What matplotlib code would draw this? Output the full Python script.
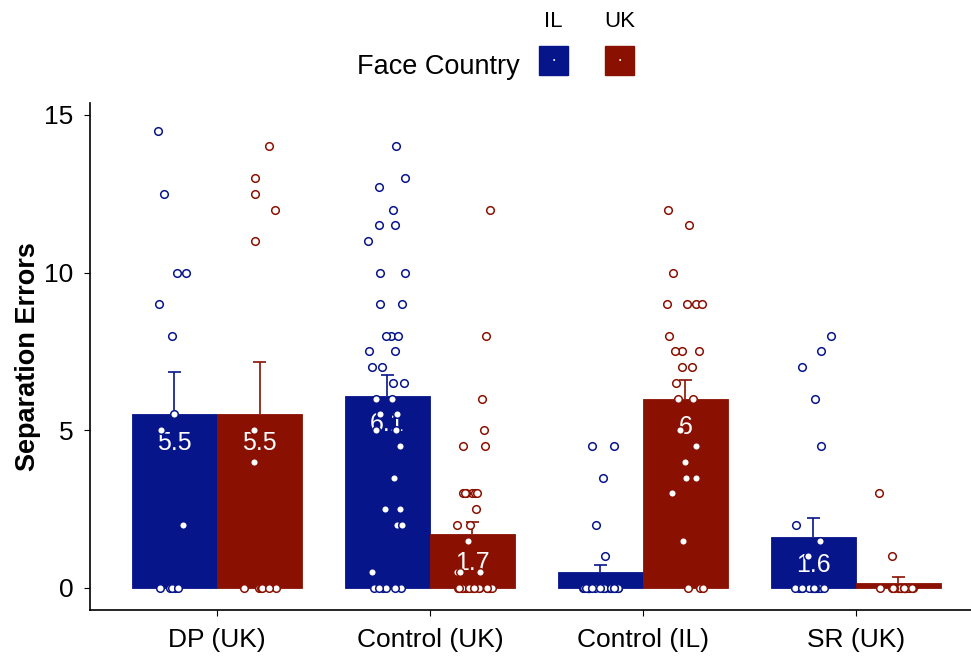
import numpy as np
import matplotlib
matplotlib.use("Agg")
import matplotlib.pyplot as plt
from matplotlib.patches import Rectangle

plt.rcParams['font.family'] = ['Liberation Sans', 'DejaVu Sans']

# Data
groups = ["DP (UK)", "Control (UK)", "Control (IL)", "SR (UK)"]
face_countries = ["IL", "UK"]
colors = {"IL": "#07158A", "UK": "#8A1102"}

# mean and standard error per group, IL then UK
means_il = [5.5, 6.1, 0.52, 1.63]
means_uk = [5.5, 1.7, 6.0, 0.17]
se_il = [1.36, 0.65, 0.21, 0.58]
se_uk = [1.68, 0.39, 0.60, 0.16]

# individual participant scores
dp_il = [14.5, 12.5, 10, 10, 9, 8, 5.5, 5, 2, 0, 0, 0, 0, 0]
dp_uk = [14, 13, 12.5, 12, 11, 5, 4, 0, 0, 0, 0, 0, 0]
cuk_il = [14, 13, 12.7, 12, 11.5, 11.5, 11, 10, 10, 9, 9, 8, 8, 8, 7.5, 7.5,
          7, 7, 6.5, 6.5, 6, 6, 5.5, 5.5, 5, 5, 4.5, 3.5, 3.5, 2.5, 2.5, 2, 2,
          0.5, 0, 0, 0, 0, 0, 0]
cuk_uk = [12, 8, 6, 5, 4.5, 4.5, 3, 3, 3, 3, 3, 3, 2.5, 2, 2, 1.5, 0.5, 0.5,
          0.5] + [0] * 21
cil_il = [4.5, 4.5, 3.5, 2, 1] + [0] * 25
cil_uk = [12, 11.5, 10, 9, 9, 9, 9, 8, 7.5, 7.5, 7.5, 7, 7, 6.5, 6, 6, 5, 4.5,
          4, 3.5, 3.5, 3, 1.5, 0, 0, 0]
sr_il = [8, 7.5, 7, 6, 4.5, 2, 1.5, 1] + [0] * 15
sr_uk = [3, 1] + [0] * 21

scores_il = [dp_il, cuk_il, cil_il, sr_il]
scores_uk = [dp_uk, cuk_uk, cil_uk, sr_uk]

fig = plt.figure(figsize=(9.71, 6.58), dpi=100)
ax = fig.add_axes([0.0927, 0.073, 0.907, 0.7705])

x = np.arange(len(groups))
width = 0.4
rng = np.random.default_rng(3)

for country, offset, means, ses, scores in [
        ("IL", -width / 2, means_il, se_il, scores_il),
        ("UK", width / 2, means_uk, se_uk, scores_uk)]:
    c = colors[country]
    xs = x + offset
    ax.bar(xs, means, width=width, color=c, edgecolor=c, linewidth=0.6, zorder=1)
    # upper error bar only
    ax.vlines(xs, means, np.array(means) + np.array(ses), color=c, lw=1.2, zorder=2)
    ax.hlines(np.array(means) + np.array(ses), xs - 0.03, xs + 0.03, color=c, lw=1.2, zorder=2)
    for xi, m in zip(xs, means):
        if m >= 1:
            ax.text(xi, m - 0.9, f"{round(m, 1):g}", color="white", fontsize=18,
                    ha="center", va="center", zorder=3)
    for xi, vals in zip(xs, scores):
        jit = rng.uniform(-0.09, 0.09, len(vals))
        ax.scatter(xi + jit, vals, s=30, facecolor="white", edgecolor=c,
                   linewidth=1.1, zorder=4)

ax.set_xlim(-0.596, 3.54)
ax.set_ylim(-0.7, 15.38)
ax.set_xticks(x)
ax.set_xticklabels(groups, fontsize=19)
ax.set_yticks([0, 5, 10, 15])
ax.tick_params(axis="y", labelsize=19, length=4, pad=8)
ax.tick_params(axis="x", length=4, pad=9)
ax.set_ylabel("Separation Errors", fontsize=19.5, fontweight="bold", labelpad=2)
for s in ["top", "right"]:
    ax.spines[s].set_visible(False)
for s in ["left", "bottom"]:
    ax.spines[s].set_linewidth(1.2)

# legend on top: labels above the keys
fig.text(0.5355, 0.898, "Face Country", fontsize=19.5, ha="right", va="center")
key_x = [0.555, 0.623]
for kx, country in zip(key_x, face_countries):
    fig.patches.append(Rectangle((kx, 0.886), 0.030, 0.044, transform=fig.transFigure,
                                 facecolor=colors[country], edgecolor=colors[country]))
    fig.text(kx + 0.015, 0.908, "\u2022", color="white", fontsize=5,
             ha="center", va="center")
    fig.text(kx + 0.015, 0.967, country, fontsize=16, ha="center", va="center")

fig.savefig("out.png", dpi=100)
